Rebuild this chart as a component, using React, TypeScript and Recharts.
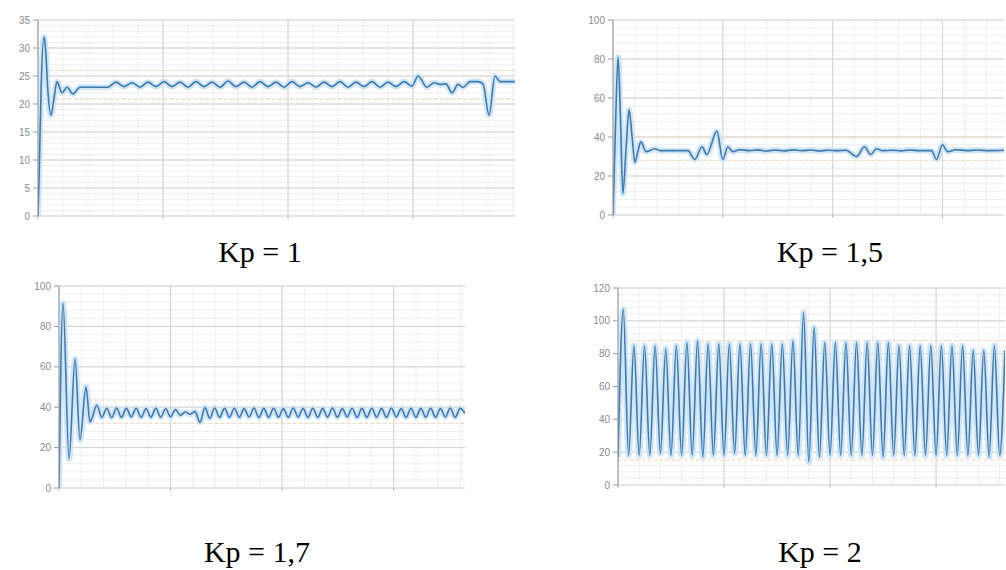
import React from 'react'
import { CartesianGrid, Line, LineChart, ReferenceLine, XAxis, YAxis } from 'recharts'

// Kp = 1 : [time, value]
const kp1Transient = [
  [0, 0], [0.05, 8], [0.12, 22], [0.24, 32], [0.3, 30], [0.4, 22], [0.52, 18], [0.64, 21],
  [0.76, 24], [0.96, 22], [1.16, 23], [1.4, 21.8], [1.68, 23], [2.0, 23], [2.4, 23], [2.8, 23],
]
// steady wiggle, sampled from t = 3.12 every 0.32
const kp1Wiggle = [
  23.9, 23.1, 23.8, 23.0, 23.9, 23.1, 24.0, 23.1, 23.9, 23.0, 24.0, 23.1, 23.9, 23.0, 24.1, 23.1,
  23.9, 23.0, 24.0, 23.1, 23.9, 23.0, 24.0, 23.1, 23.8, 23.0, 23.9, 23.1, 24.0, 23.0, 23.9, 23.1,
  24.0, 23.0, 23.9, 23.1, 24.0, 23.2,
]
const kp1Tail = [
  [15.2, 25], [15.56, 23], [15.84, 23.8], [16.08, 23.5], [16.32, 23.6], [16.56, 22], [16.8, 23.5],
  [17.0, 23], [17.28, 24], [17.6, 24], [17.8, 23.6], [18.04, 18], [18.28, 25], [18.48, 24],
  [18.8, 24], [19.08, 24],
]

// Kp = 1,5
const kp15 = [
  [0, 0], [0.1, 40], [0.23, 81], [0.34, 50], [0.45, 11], [0.6, 35], [0.73, 54], [0.87, 40],
  [1.0, 27], [1.14, 33], [1.27, 37.5], [1.5, 32.5], [1.91, 34], [2.14, 33], [2.6, 33], [3.0, 33],
  [3.41, 33], [3.73, 28.5], [4.05, 35], [4.27, 31], [4.73, 43], [5.0, 28.5], [5.23, 35],
  [5.45, 32.5], [5.77, 33.5], [6.2, 33], [6.6, 33.4], [7.0, 32.8], [7.4, 33.3], [7.8, 32.9],
  [8.2, 33.4], [8.6, 33], [9.0, 33.3], [9.4, 32.8], [9.8, 33.2], [10.2, 33], [10.6, 33.2],
  [11.09, 30], [11.45, 35], [11.73, 31], [12.0, 34], [12.27, 33], [12.7, 33.2], [13.1, 32.9],
  [13.5, 33.3], [14.0, 33], [14.5, 33], [14.73, 28.5], [15.0, 36], [15.23, 32.5], [15.64, 33.5],
  [16.1, 33], [16.6, 33.3], [17.1, 33], [17.8, 33.2],
]

// Kp = 1,7
const kp17Transient = [
  [0, 0], [0.18, 91.5], [0.45, 14.4], [0.72, 64], [0.94, 23.8], [1.21, 50], [1.39, 32.7], [1.7, 41],
]
// sampled from t = 1.92 every 0.22
const kp17Wiggle = [
  35, 39.5, 34.8, 39.6, 35, 39.4, 35.2, 39.5, 35, 39.3, 35.1, 39.5, 35, 39.2, 35.3,
  38.8, 36, 37.6, 36.5, 37.8, 32.5, 39.8, 34.5, 39.6,
  35, 39.4, 35.1, 39.5, 35, 39.3, 35.2, 39.6, 34.9, 39.4,
  35, 39.5, 35.1, 39.3, 35, 39.6, 35.2, 39.4, 34.9, 39.5,
  35, 39.4, 35.1, 39.6, 35, 39.3, 35.2, 39.5, 34.9, 39.4,
  35, 39.5, 35.1, 39.4, 35, 39.6, 35.2, 39.3, 34.9, 39.5,
  35, 39.4, 35.1, 39.5, 35, 39.3, 35.2, 39.6, 35, 39.4,
  37,
]

// Kp = 2 : peaks at t = 0.25 + 0.5k, troughs at t = 0.5k
const kp2Peaks = [
  107, 85, 85, 85, 83, 85, 87, 88, 86, 86, 86, 86, 86, 86, 86, 86, 88, 105, 96, 87,
  87, 87, 87, 87, 87, 87, 85, 85, 85, 85, 85, 85, 85, 82, 82, 85, 82,
]
const kp2Troughs = [
  17, 18, 18, 18, 19, 18, 18, 18, 17, 18, 18, 19, 18, 18, 18, 18, 18, 18, 14, 17,
  18, 18, 18, 18, 18, 17, 18, 18, 18, 18, 18, 18, 18, 18, 18, 17, 18,
]

type Row = { t: number; v: number }

const pairsToRows = (pairs: number[][]): Row[] => pairs.map(([t, v]) => ({ t, v }))
const sampled = (vals: number[], start: number, step: number): Row[] =>
  vals.map((v, i) => ({ t: +(start + i * step).toFixed(3), v }))

const kp1Data = [...pairsToRows(kp1Transient), ...sampled(kp1Wiggle, 3.12, 0.32), ...pairsToRows(kp1Tail)]
const kp15Data = pairsToRows(kp15)
const kp17Data = [...pairsToRows(kp17Transient), ...sampled(kp17Wiggle, 1.92, 0.22)]
const kp2Data: Row[] = []
kp2Peaks.forEach((p, k) => {
  kp2Data.push({ t: k * 0.5, v: kp2Troughs[k] })
  kp2Data.push({ t: k * 0.5 + 0.25, v: p })
})

function range(from: number, to: number, step: number) {
  const out: number[] = []
  for (let x = from; x <= to + 1e-9; x += step) out.push(+x.toFixed(3))
  return out
}

type PanelProps = {
  data: Row[]
  left: number
  top: number
  width: number
  height: number
  xMax: number
  yMax: number
  yStep: number
  yMinor: number
  bands: number[]
  yWidth: number
}

function Panel({ data, left, top, width, height, xMax, yMax, yStep, yMinor, bands, yWidth }: PanelProps) {
  const yTicks = range(0, yMax, yStep)
  return (
    <div style={{ position: 'absolute', left, top }}>
      <LineChart width={width} height={height} data={data} margin={{ top: 20, right: 1, bottom: 2, left: 0 }}>
        <CartesianGrid stroke="#eeeeee" verticalValues={range(0, xMax, 1)} horizontalValues={range(0, yMax, yMinor)} />
        <CartesianGrid stroke="#d2d2d2" verticalValues={range(0, xMax, 5)} horizontalValues={yTicks} fill="none" />
        {bands.map(b => (
          <ReferenceLine key={b} y={b} stroke="#f4d8bb" strokeDasharray="3 3" />
        ))}
        <XAxis
          dataKey="t"
          type="number"
          domain={[0, xMax]}
          ticks={range(0, xMax, 5)}
          tickFormatter={() => ''}
          tickSize={3}
          axisLine={false}
          tickLine={{ stroke: '#b5b5b5' }}
          height={8}
          allowDataOverflow
        />
        <YAxis
          type="number"
          domain={[0, yMax]}
          ticks={yTicks}
          interval={0}
          width={yWidth}
          tickSize={5}
          tickMargin={3}
          axisLine={{ stroke: '#9a9a9a' }}
          tickLine={{ stroke: '#9a9a9a' }}
          tick={{ fill: '#8a8a8a', fontSize: 10, fontFamily: "'Liberation Sans', Arial, sans-serif" }}
        />
        <Line dataKey="v" type="monotone" stroke="#cfe6f7" strokeWidth={6} dot={false} activeDot={false} isAnimationActive={false} />
        <Line dataKey="v" type="monotone" stroke="#3f78ae" strokeWidth={1.6} dot={false} activeDot={false} isAnimationActive={false} />
      </LineChart>
    </div>
  )
}

const captionStyle: React.CSSProperties = {
  position: 'absolute',
  width: 240,
  textAlign: 'center',
  fontFamily: "'Liberation Serif', 'Times New Roman', serif",
  fontSize: 30,
  lineHeight: 'normal',
  color: '#000',
  whiteSpace: 'nowrap',
}

export default function App() {
  return (
    <div style={{ position: 'absolute', left: 0, top: 0, width: 1006, height: 570, background: '#fff', overflow: 'hidden' }}>
      <Panel data={kp1Data} left={0} top={0} width={516} height={226} xMax={19.08} yMax={35} yStep={5} yMinor={1} bands={[26, 20.8]} yWidth={38} />
      <Panel data={kp15Data} left={573} top={0} width={432} height={225} xMax={17.8} yMax={100} yStep={20} yMinor={4} bands={[40, 28]} yWidth={40} />
      <Panel data={kp17Data} left={19} top={266} width={447} height={232} xMax={18.2} yMax={100} yStep={20} yMinor={4} bands={[43.5, 32]} yWidth={40} />
      <Panel data={kp2Data} left={578} top={268} width={428} height={227} xMax={18.25} yMax={120} yStep={20} yMinor={4} bands={[88, 15]} yWidth={40} />

      <div style={{ ...captionStyle, left: 140, top: 235 }}>Kp = 1</div>
      <div style={{ ...captionStyle, left: 710, top: 235 }}>Kp = 1,5</div>
      <div style={{ ...captionStyle, left: 137, top: 535 }}>Kp = 1,7</div>
      <div style={{ ...captionStyle, left: 700, top: 535 }}>Kp = 2</div>
    </div>
  )
}
